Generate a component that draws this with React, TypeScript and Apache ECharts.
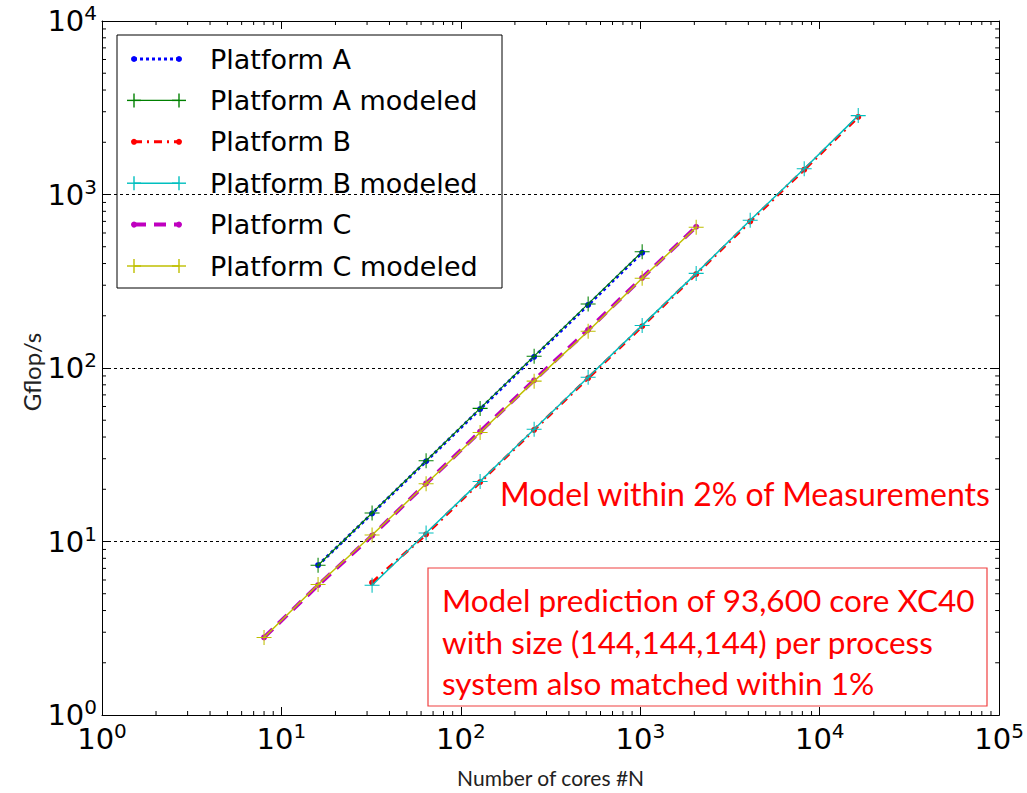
import React, { useEffect, useRef } from "react";
import * as echarts from "echarts";

// ---- data ----
const coresA = [16, 32, 64, 128, 256, 512, 1024];
const platformA = [7.3, 14.5, 29.0, 58.0, 116, 231, 462];
const platformAModeled = [7.3, 14.6, 29.2, 58.5, 117, 234, 468];

const coresB = [32, 64, 128, 256, 512, 1024, 2048, 4096, 8192, 16384];
const platformB = [5.8, 11.0, 22.0, 44.0, 87.5, 174, 348, 700, 1390, 2800];
const platformBModeled = [5.6, 11.2, 22.2, 44.4, 88.5, 176, 351, 711, 1406, 2849];

const coresC = [8, 16, 32, 64, 128, 256, 512, 1024, 2048];
const platformC = [2.8, 5.6, 10.8, 21.6, 43.0, 85.0, 166, 331, 652];
const platformCModeled = [2.8, 5.65, 10.9, 21.5, 42.5, 84.0, 163, 329, 648];

const xMin = 1;
const xMax = 100000;
const yMin = 1;
const yMax = 10000;
const minorMultipliers = [2, 3, 4, 5, 6, 7, 8, 9];
const xDecades = [1, 10, 100, 1000, 10000];
const yDecades = [1, 10, 100, 1000];

const xAxisTitle = "Number of cores #N";
const yAxisTitle = "Gflop/s";

const legendNames = [
  "Platform A",
  "Platform A modeled",
  "Platform B",
  "Platform B modeled",
  "Platform C",
  "Platform C modeled",
];

const annotation1 = "Model within 2% of Measurements";
const annotationBox = [
  "Model prediction of 93,600 core XC40",
  "with size (144,144,144) per process",
  "system also matched within 1%",
];

const pair = (xs: number[], ys: number[]) => xs.map((x, i) => [x, ys[i]]);

const PLUS = "path://M9.3,0 H10.7 V20 H9.3 Z M0,9.3 H20 V10.7 H0 Z";

const styles = [
  { color: "#0000ff", type: [3, 3], width: 3, symbol: "circle", size: 6 },
  { color: "#008000", type: "solid", width: 1.2, symbol: PLUS, size: 15 },
  { color: "#ff0000", type: [8, 5, 2, 5], width: 3, symbol: "circle", size: 6 },
  { color: "#00bfbf", type: "solid", width: 1.5, symbol: PLUS, size: 15 },
  { color: "#bf00bf", type: [12, 8], width: 4, symbol: "circle", size: 6 },
  { color: "#bfbf00", type: "solid", width: 1.5, symbol: PLUS, size: 15 },
];

const seriesData = [
  pair(coresA, platformA),
  pair(coresA, platformAModeled),
  pair(coresB, platformB),
  pair(coresB, platformBModeled),
  pair(coresC, platformC),
  pair(coresC, platformCModeled),
];

const minorX: number[][] = [];
xDecades.forEach((d) => minorMultipliers.forEach((m) => minorX.push([m * d, yMin])));
const minorY: number[][] = [];
yDecades.forEach((d) => minorMultipliers.forEach((m) => minorY.push([xMin, m * d])));

const supLabel = (v: number) => `{b|10}{s|${Math.round(Math.log10(v))}}`;
const richLabel = {
  b: { fontSize: 29, fontFamily: "DejaVu Sans", color: "#000", lineHeight: 36 },
  s: { fontSize: 20, fontFamily: "DejaVu Sans", color: "#000", verticalAlign: "top", lineHeight: 36 },
};

export default function App() {
  const ref = useRef<HTMLDivElement>(null);
  useEffect(() => {
    if (!ref.current) return;
    const chart = echarts.init(ref.current, null, { renderer: "svg", width: 1027, height: 793 });

    const lineSeries = seriesData.map((d, i) => ({
      type: "line",
      name: legendNames[i],
      data: d,
      symbol: styles[i].symbol,
      symbolSize: styles[i].size,
      showSymbol: true,
      lineStyle: { color: styles[i].color, type: styles[i].type as any, width: styles[i].width },
      itemStyle: { color: styles[i].color, borderWidth: 0 },
      z: 3 + i,
      silent: true,
    }));

    const tickSeries = [
      {
        type: "custom",
        data: minorX,
        silent: true,
        clip: false,
        z: 20,
        renderItem: (params: any, api: any) => {
          const v = api.value(0);
          const b = api.coord([v, yMin]);
          const t = api.coord([v, yMax]);
          return {
            type: "group",
            children: [
              { type: "line", shape: { x1: b[0], y1: b[1], x2: b[0], y2: b[1] - 4 }, style: { stroke: "#000", lineWidth: 1 } },
              { type: "line", shape: { x1: t[0], y1: t[1], x2: t[0], y2: t[1] + 4 }, style: { stroke: "#000", lineWidth: 1 } },
            ],
          };
        },
      },
      {
        type: "custom",
        data: minorY,
        silent: true,
        clip: false,
        z: 20,
        renderItem: (params: any, api: any) => {
          const v = api.value(1);
          const l = api.coord([xMin, v]);
          const r = api.coord([xMax, v]);
          return {
            type: "group",
            children: [
              { type: "line", shape: { x1: l[0], y1: l[1], x2: l[0] + 4, y2: l[1] }, style: { stroke: "#000", lineWidth: 1 } },
              { type: "line", shape: { x1: r[0], y1: r[1], x2: r[0] - 4, y2: r[1] }, style: { stroke: "#000", lineWidth: 1 } },
            ],
          };
        },
      },
    ];

    // legend drawn with graphic elements
    const legendX = 117;
    const legendY = 35;
    const legendChildren: any[] = [
      { type: "rect", shape: { x: 0, y: 0, width: 385, height: 253 }, style: { fill: "#fff", stroke: "#000", lineWidth: 1 } },
    ];
    legendNames.forEach((name, i) => {
      const cy = 24 + i * 41.4;
      const s = styles[i];
      legendChildren.push({
        type: "line",
        shape: { x1: 17, y1: cy, x2: 62, y2: cy },
        style: { stroke: s.color, lineWidth: s.width, lineDash: s.type === "solid" ? null : s.type },
      });
      [17, 62].forEach((mx) => {
        if (s.symbol === "circle") {
          legendChildren.push({ type: "circle", shape: { cx: mx, cy, r: 3 }, style: { fill: s.color } });
        } else {
          legendChildren.push({ type: "line", shape: { x1: mx, y1: cy - 7, x2: mx, y2: cy + 7 }, style: { stroke: s.color, lineWidth: 1.4 } });
          legendChildren.push({ type: "line", shape: { x1: mx - 7, y1: cy, x2: mx + 7, y2: cy }, style: { stroke: s.color, lineWidth: 1.4 } });
        }
      });
      legendChildren.push({
        type: "text",
        x: 93,
        y: cy,
        style: { text: name, fontSize: 27, fontFamily: "DejaVu Sans", fill: "#000", verticalAlign: "middle", align: "left" },
      });
    });

    const redFont = "Lato";
    const graphic: any[] = [
      { type: "group", x: legendX, y: legendY, z: 100, children: legendChildren },
      {
        type: "text",
        x: 31,
        y: 372,
        rotation: Math.PI / 2,
        z: 100,
        style: { text: yAxisTitle, fontSize: 24, fontFamily: "Lato", fill: "#222", align: "center", verticalAlign: "middle" },
      },
      {
        type: "text",
        x: 500,
        y: 493,
        z: 100,
        style: { text: annotation1, fontSize: 32, fontFamily: redFont, fill: "#ff0000", verticalAlign: "middle", align: "left" },
      },
      {
        type: "rect",
        z: 100,
        shape: { x: 428, y: 568, width: 559, height: 138 },
        style: { fill: "#fff", stroke: "#f04040", lineWidth: 1.2 },
      },
      ...annotationBox.map((t, i) => ({
        type: "text",
        x: 442,
        y: 600 + i * 41.5,
        z: 101,
        style: { text: t, fontSize: 31.5, fontFamily: redFont, fill: "#ff0000", verticalAlign: "middle", align: "left" },
      })),
    ];

    const option: any = {
      animation: false,
      backgroundColor: "#fff",
      grid: { left: 102, top: 21, width: 903, height: 704, containLabel: false },
      xAxis: [
        {
          type: "log",
          logBase: 10,
          min: xMin,
          max: xMax,
          name: xAxisTitle,
          nameLocation: "middle",
          nameGap: 52,
          nameTextStyle: { fontFamily: "Lato", fontSize: 21, color: "#222" },
          axisLine: { show: true, lineStyle: { color: "#000", width: 1 } },
          axisTick: { show: true, inside: true, length: 8, lineStyle: { color: "#000" } },
          axisLabel: { formatter: supLabel, rich: richLabel, margin: 6 },
          splitLine: { show: false },
        },
        {
          type: "log",
          logBase: 10,
          min: xMin,
          max: xMax,
          position: "top",
          axisLine: { show: true, lineStyle: { color: "#000", width: 1 } },
          axisTick: { show: true, inside: true, length: 8, lineStyle: { color: "#000" } },
          axisLabel: { show: false },
          splitLine: { show: false },
        },
      ],
      yAxis: [
        {
          type: "log",
          logBase: 10,
          min: yMin,
          max: yMax,
          axisLine: { show: true, lineStyle: { color: "#000", width: 1 } },
          axisTick: { show: true, inside: true, length: 8, lineStyle: { color: "#000" } },
          axisLabel: { formatter: supLabel, rich: richLabel, margin: 5 },
          splitLine: { show: true, lineStyle: { color: "#000", type: [3, 3], width: 1 } },
        },
        {
          type: "log",
          logBase: 10,
          min: yMin,
          max: yMax,
          position: "right",
          axisLine: { show: true, lineStyle: { color: "#000", width: 1 } },
          axisTick: { show: true, inside: true, length: 8, lineStyle: { color: "#000" } },
          axisLabel: { show: false },
          splitLine: { show: false },
        },
      ],
      series: [...lineSeries, ...tickSeries],
      graphic,
    };
    chart.setOption(option);
    return () => chart.dispose();
  }, []);
  return <div ref={ref} style={{ position: "fixed", left: 0, top: 0, width: 1027, height: 793 }} />;
}
